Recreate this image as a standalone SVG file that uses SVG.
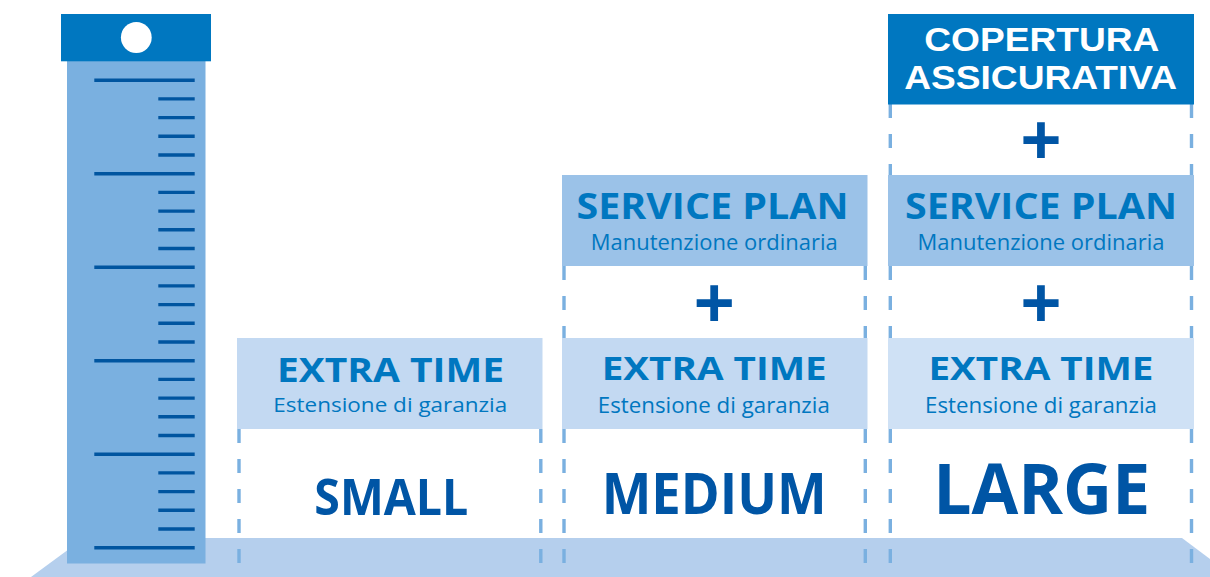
<svg xmlns="http://www.w3.org/2000/svg" width="1210" height="577" viewBox="0 0 1210 577">
<style>
.dash{stroke:#7ab0e0;stroke-width:3.4;stroke-dasharray:14 16;fill:none}
.tick{stroke:#0055a0;stroke-width:3.4}
.h1{font-family:"Open Sans",sans-serif;font-weight:700;fill:#0077c0;text-anchor:middle}
.h2{font-family:"Open Sans",sans-serif;font-weight:400;fill:#0077c0;text-anchor:middle}
.big{font-family:"Open Sans",sans-serif;font-weight:700;fill:#0055a5;text-anchor:middle}
.plus{font-family:"Liberation Sans",Arial,sans-serif;font-weight:700;fill:#0055a5;text-anchor:middle;font-size:70px}
.cov{font-family:"Liberation Sans",Arial,sans-serif;font-weight:700;fill:#ffffff;text-anchor:middle;font-size:33.5px}
.et{fill:#c3d9f2}
.sp{fill:#9bc2e8}
</style>
<rect width="1210" height="577" fill="#ffffff"/>
<g id="floor">
<polygon points="84,538 1182,538 1234,577 31,577" fill="#b5cfed"/>
</g>
<g id="ruler">
<rect x="67" y="61" width="138.5" height="502.5" fill="#7ab0e0"/>
<rect x="61" y="14" width="150" height="47.3" fill="#0077c0"/>
<circle cx="136.3" cy="37.5" r="15.4" fill="#ffffff"/>
<g class="tick">
<line x1="94.3" y1="80.2" x2="194.7" y2="80.2"/>
<line x1="158.3" y1="98.9" x2="194.7" y2="98.9"/>
<line x1="158.3" y1="117.6" x2="194.7" y2="117.6"/>
<line x1="158.3" y1="136.3" x2="194.7" y2="136.3"/>
<line x1="158.3" y1="155.0" x2="194.7" y2="155.0"/>
<line x1="94.3" y1="173.7" x2="194.7" y2="173.7"/>
<line x1="158.3" y1="192.4" x2="194.7" y2="192.4"/>
<line x1="158.3" y1="211.1" x2="194.7" y2="211.1"/>
<line x1="158.3" y1="229.8" x2="194.7" y2="229.8"/>
<line x1="158.3" y1="248.5" x2="194.7" y2="248.5"/>
<line x1="94.3" y1="267.2" x2="194.7" y2="267.2"/>
<line x1="158.3" y1="285.9" x2="194.7" y2="285.9"/>
<line x1="158.3" y1="304.6" x2="194.7" y2="304.6"/>
<line x1="158.3" y1="323.3" x2="194.7" y2="323.3"/>
<line x1="158.3" y1="342.0" x2="194.7" y2="342.0"/>
<line x1="94.3" y1="360.7" x2="194.7" y2="360.7"/>
<line x1="158.3" y1="379.4" x2="194.7" y2="379.4"/>
<line x1="158.3" y1="398.1" x2="194.7" y2="398.1"/>
<line x1="158.3" y1="416.8" x2="194.7" y2="416.8"/>
<line x1="158.3" y1="435.5" x2="194.7" y2="435.5"/>
<line x1="94.3" y1="454.2" x2="194.7" y2="454.2"/>
<line x1="158.3" y1="472.9" x2="194.7" y2="472.9"/>
<line x1="158.3" y1="491.6" x2="194.7" y2="491.6"/>
<line x1="158.3" y1="510.3" x2="194.7" y2="510.3"/>
<line x1="158.3" y1="529.0" x2="194.7" y2="529.0"/>
<line x1="94.3" y1="547.7" x2="194.7" y2="547.7"/>
</g>
</g>
<g id="guides">
<line class="dash" x1="239" y1="429" x2="239" y2="564"/>
<line class="dash" x1="540.8" y1="429" x2="540.8" y2="564"/>
<line class="dash" x1="564" y1="266" x2="564" y2="338"/>
<line class="dash" x1="865.3" y1="266" x2="865.3" y2="338"/>
<line class="dash" x1="564" y1="429" x2="564" y2="564"/>
<line class="dash" x1="865.3" y1="429" x2="865.3" y2="564"/>
<line class="dash" x1="890.3" y1="104" x2="890.3" y2="175"/>
<line class="dash" x1="1191.5" y1="104" x2="1191.5" y2="175"/>
<line class="dash" x1="890.3" y1="266" x2="890.3" y2="338"/>
<line class="dash" x1="1191.5" y1="266" x2="1191.5" y2="338"/>
<line class="dash" x1="890.3" y1="429" x2="890.3" y2="564"/>
<line class="dash" x1="1191.5" y1="429" x2="1191.5" y2="564"/>
</g>
<g id="small-extra-time">
<rect class="et" x="237" y="338" width="305.5" height="91"/>
<text class="h1" x="390.5" y="382" font-size="34" textLength="227" lengthAdjust="spacingAndGlyphs">EXTRA TIME</text>
<text class="h2" x="390.3" y="412" font-size="20.5" textLength="234" lengthAdjust="spacingAndGlyphs">Estensione di garanzia</text>
</g>
<g id="small-label">
<text class="big" x="391.3" y="515" font-size="50" textLength="154" lengthAdjust="spacingAndGlyphs">SMALL</text>
</g>
<g id="medium-service-plan">
<rect class="sp" x="562" y="175" width="305.5" height="91"/>
<text class="h1" x="712.5" y="218.5" font-size="35" textLength="272" lengthAdjust="spacingAndGlyphs">SERVICE PLAN</text>
<text class="h2" x="714.2" y="250" font-size="21" textLength="247" lengthAdjust="spacingAndGlyphs">Manutenzione ordinaria</text>
</g>
<g id="medium-plus">
<text class="plus" x="714.3" y="326.5">+</text>
</g>
<g id="medium-extra-time">
<rect class="et" x="562" y="338" width="305.5" height="91"/>
<text class="h1" x="714.2" y="379.5" font-size="33" textLength="225" lengthAdjust="spacingAndGlyphs">EXTRA TIME</text>
<text class="h2" x="713.8" y="412.5" font-size="21" textLength="232" lengthAdjust="spacingAndGlyphs">Estensione di garanzia</text>
</g>
<g id="medium-label">
<text class="big" x="714.2" y="514" font-size="57" textLength="225" lengthAdjust="spacingAndGlyphs">MEDIUM</text>
</g>
<g id="large-copertura">
<rect x="888" y="14" width="306" height="90.5" fill="#0077c0"/>
<text class="cov" x="1041.8" y="51" textLength="235" lengthAdjust="spacingAndGlyphs">COPERTURA</text>
<text class="cov" x="1040.7" y="89" textLength="273" lengthAdjust="spacingAndGlyphs">ASSICURATIVA</text>
</g>
<g id="large-plus-top">
<text class="plus" x="1041" y="164">+</text>
</g>
<g id="large-service-plan">
<rect class="sp" x="888" y="175" width="306" height="91"/>
<text class="h1" x="1041" y="218.5" font-size="35" textLength="272" lengthAdjust="spacingAndGlyphs">SERVICE PLAN</text>
<text class="h2" x="1041" y="250" font-size="21" textLength="247" lengthAdjust="spacingAndGlyphs">Manutenzione ordinaria</text>
</g>
<g id="large-plus">
<text class="plus" x="1041" y="326.5">+</text>
</g>
<g id="large-extra-time">
<rect x="888" y="338" width="306" height="91" fill="#cfe1f5"/>
<text class="h1" x="1041" y="379.5" font-size="33" textLength="225" lengthAdjust="spacingAndGlyphs">EXTRA TIME</text>
<text class="h2" x="1041" y="412.5" font-size="21" textLength="232" lengthAdjust="spacingAndGlyphs">Estensione di garanzia</text>
</g>
<g id="large-label">
<text class="big" x="1041.7" y="514" font-size="70" textLength="217" lengthAdjust="spacingAndGlyphs">LARGE</text>
</g>
</svg>
